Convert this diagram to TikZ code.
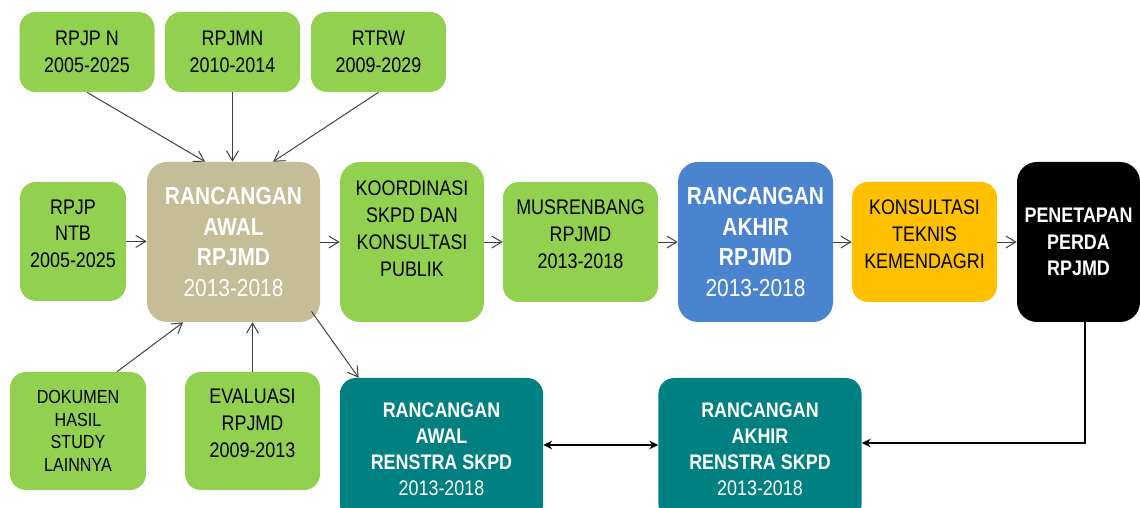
\documentclass[tikz,border=0pt]{standalone}
\usepackage{fontspec}
\setmainfont{Liberation Sans}[FakeStretch=0.85]
\usetikzlibrary{arrows.meta}
\definecolor{boxgreen}{HTML}{92D050}
\definecolor{boxtan}{HTML}{C4BD97}
\definecolor{boxblue}{HTML}{4A84CF}
\definecolor{boxyellow}{HTML}{FFC000}
\definecolor{boxteal}{HTML}{008080}
\definecolor{linegray}{HTML}{404040}
\tikzset{
	box/.style={rectangle, rounded corners=0.4cm, align=center, inner sep=0pt},
	greenbox/.style={box, fill=boxgreen, text=black, font=\fontsize{15}{19}\selectfont},
	mainbox/.style={box, rounded corners=0.5cm, text=white, font=\fontsize{17.5}{22}\selectfont},
	tealbox/.style={box, fill=boxteal, text=white, font=\fontsize{15}{18.5}\selectfont, minimum width=5.08cm, minimum height=3.55cm},
	feed/.style={draw=linegray, line width=0.7pt, -{Straight Barb[length=0.25cm,width=0.3cm]}},
	link/.style={draw=black, line width=0.9pt, -{Stealth[length=0.22cm,width=0.22cm]}},
	dlink/.style={link, {Stealth[length=0.22cm,width=0.22cm]}-{Stealth[length=0.22cm,width=0.22cm]}}
}
\begin{document}
\begin{tikzpicture}[scale=1]
	\useasboundingbox (0,0) rectangle (28.5,12.675);
	\fill[white] (0,0) rectangle (28.5,12.675);
	\clip (0,0) rectangle (28.5,12.675);
	\node[greenbox, minimum width=3.375cm, minimum height=2cm] (rpjpn) at (2.175,11.375) {RPJP N\\2005-2025};
	\node[greenbox, minimum width=3.375cm, minimum height=2cm] (rpjmn) at (5.8125,11.375) {RPJMN\\2010-2014};
	\node[greenbox, minimum width=3.375cm, minimum height=2cm] (rtrw) at (9.4625,11.375) {RTRW\\2009-2029};
	\node[greenbox, minimum width=2.65cm, minimum height=2.975cm] (ntb) at (1.825,6.64) {RPJP\\NTB\\2005-2025\\[-8pt]\mbox{}};
	\node[mainbox, fill=boxtan, minimum width=4.325cm, minimum height=4cm] (awal) at (5.8375,6.625) {\textbf{RANCANGAN}\\\textbf{AWAL}\\\textbf{RPJMD}\\2013-2018};
	\node[greenbox, rounded corners=0.5cm, minimum width=3.6cm, minimum height=4cm] (koord) at (10.3,6.625) {KOORDINASI\\SKPD DAN\\KONSULTASI\\PUBLIK\\\mbox{}};
	\node[greenbox, minimum width=3.875cm, minimum height=3cm] (musren) at (14.5125,6.625) {MUSRENBANG\\RPJMD\\2013-2018\\[-8pt]\mbox{}};
	\node[mainbox, fill=boxblue, minimum width=3.875cm, minimum height=4cm] (akhir) at (18.8875,6.625) {\textbf{RANCANGAN}\\\textbf{AKHIR}\\\textbf{RPJMD}\\2013-2018};
	\node[greenbox, fill=boxyellow, minimum width=3.625cm, minimum height=3cm] (konsul) at (23.1125,6.625) {KONSULTASI\\TEKNIS\\KEMENDAGRI\\[-8pt]\mbox{}};
	\node[box, rounded corners=0.5cm, fill=black, text=white, font=\fontsize{15}{19}\selectfont\bfseries, minimum width=3.075cm, minimum height=4cm] (perda) at (26.9625,6.625) {PENETAPAN\\PERDA\\RPJMD};
	\node[greenbox, font=\fontsize{13.5}{16}\selectfont, minimum width=3.4cm, minimum height=2.95cm] (dokumen) at (1.95,1.9) {DOKUMEN\\HASIL\\STUDY\\LAINNYA};
	\node[greenbox, minimum width=3.375cm, minimum height=2.95cm] (evaluasi) at (6.3125,1.9) {EVALUASI\\RPJMD\\2009-2013\\[-8pt]\mbox{}};
	\node[tealbox] (renawal) at (11.0375,1.45) {\textbf{RANCANGAN}\\\textbf{AWAL}\\\textbf{RENSTRA SKPD}\\2013-2018};
	\node[tealbox] (renakhir) at (19.0,1.45) {\textbf{RANCANGAN}\\\textbf{AKHIR}\\\textbf{RENSTRA SKPD}\\2013-2018};
	\draw[feed] (rpjpn.south) -- ([xshift=-0.71cm]awal.north);
	\draw[feed] (rpjmn.south) -- (rpjmn.south |- awal.north);
	\draw[feed] (rtrw.south) -- ([xshift=0.99cm]awal.north);
	\draw[feed] (ntb.east) -- (ntb.east -| awal.west);
	\draw[feed] ([xshift=0.975cm]dokumen.north) -- ([xshift=-1.26cm]awal.south);
	\draw[feed] (evaluasi.north) -- (evaluasi.north |- awal.south);
	\draw[feed] ([xshift=-0.22cm,yshift=0.27cm]awal.south east) -- ([xshift=0.475cm]renawal.north west);
	\draw[feed] (awal.east) -- (koord.west);
	\draw[feed] (koord.east) -- (musren.west);
	\draw[feed] (musren.east) -- (akhir.west);
	\draw[feed] (akhir.east) -- (konsul.west);
	\draw[feed] (konsul.east) -- (perda.west);
	\draw[link] ([xshift=0.16cm]perda.south) |- ([yshift=0.15cm]renakhir.east);
	\draw[dlink] ([yshift=0.1cm]renawal.east) -- ([yshift=0.1cm]renakhir.west);
\end{tikzpicture}
\end{document}
